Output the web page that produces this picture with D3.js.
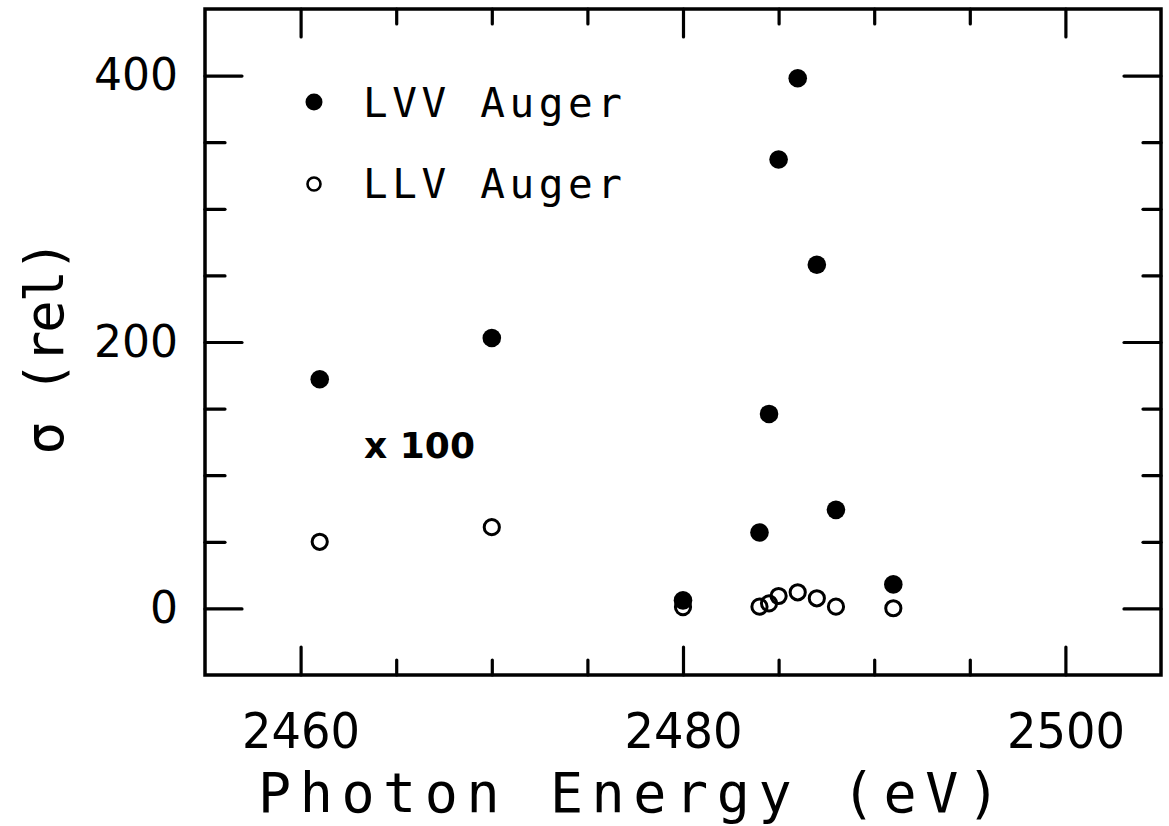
<!DOCTYPE html>
<html>
<head>
<meta charset="utf-8">
<script src="https://cdn.jsdelivr.net/npm/d3@7"></script>
<style>
  html, body { margin: 0; padding: 0; background: #fff; }
  svg { display: block; }
  text { font-family: "DejaVu Sans", sans-serif; fill: #000; }
  .mono { font-family: "DejaVu Sans Mono", monospace; }
</style>
</head>
<body>
<svg id="chart" width="1169" height="826"></svg>
<script>
// ---- data ----
const energies = [2461, 2470, 2480, 2484, 2484.5, 2485, 2486, 2487, 2488, 2491];
const lvvValues = [172, 203, 6, 57, 146, 337, 398, 258, 74, 18];
const llvValues = [50, 61, 1, 1.3, 3.8, 9.3, 12.1, 7.6, 1.3, 0.1];
const xMajorTicks = [2460, 2480, 2500];
const xMinorTicks = [2465, 2470, 2475, 2485, 2490, 2495];
const yMajorTicks = [0, 200, 400];
const yMinorTicks = [50, 100, 150, 250, 300, 350];
const legendLabels = ["LVV Auger", "LLV Auger"];
const xTitle = "Photon Energy (eV)";
const yTitle = "\u03c3 (rel)";
const scaleNote = "x 100";

// ---- layout ----
const L = 205, R = 1161, T = 9, B = 675;
const svg = d3.select("#chart");
const x = d3.scaleLinear().domain([2455, 2505]).range([L, R]);
const y = d3.scaleLinear().domain([-50, 450]).range([B, T]);

function styleAxis(g) {
  g.select(".domain").remove();
  g.selectAll(".tick line").attr("stroke", "#000").attr("stroke-width", 3.2).attr("stroke-linecap", "round");
}

// bottom
svg.append("g").attr("transform", `translate(0,${B})`)
  .call(d3.axisBottom(x).tickValues(xMajorTicks).tickSizeInner(-28).tickSizeOuter(0).tickPadding(37).tickFormat(d3.format("d")))
  .call(styleAxis)
  .call(g => g.selectAll(".tick text").attr("font-size", 50).attr("textLength", 118).attr("lengthAdjust", "spacingAndGlyphs").attr("font-family", "DejaVu Sans"));
svg.append("g").attr("transform", `translate(0,${B})`)
  .call(d3.axisBottom(x).tickValues(xMinorTicks).tickSizeInner(-15).tickSizeOuter(0).tickFormat(""))
  .call(styleAxis);
// top
svg.append("g").attr("transform", `translate(0,${T})`)
  .call(d3.axisTop(x).tickValues(xMajorTicks).tickSizeInner(-28).tickSizeOuter(0).tickFormat(""))
  .call(styleAxis);
svg.append("g").attr("transform", `translate(0,${T})`)
  .call(d3.axisTop(x).tickValues(xMinorTicks).tickSizeInner(-15).tickSizeOuter(0).tickFormat(""))
  .call(styleAxis);
// left
svg.append("g").attr("transform", `translate(${L},0)`)
  .call(d3.axisLeft(y).tickValues(yMajorTicks).tickSizeInner(-37).tickSizeOuter(0).tickPadding(27).tickFormat(d3.format("d")))
  .call(styleAxis)
  .call(g => g.selectAll(".tick text").attr("font-size", 44).attr("font-family", "DejaVu Sans"));
svg.append("g").attr("transform", `translate(${L},0)`)
  .call(d3.axisLeft(y).tickValues(yMinorTicks).tickSizeInner(-20).tickSizeOuter(0).tickFormat(""))
  .call(styleAxis);
// right
svg.append("g").attr("transform", `translate(${R},0)`)
  .call(d3.axisRight(y).tickValues(yMajorTicks).tickSizeInner(-37).tickSizeOuter(0).tickFormat(""))
  .call(styleAxis);
svg.append("g").attr("transform", `translate(${R},0)`)
  .call(d3.axisRight(y).tickValues(yMinorTicks).tickSizeInner(-18).tickSizeOuter(0).tickFormat(""))
  .call(styleAxis);

// frame
svg.append("rect").attr("x", L).attr("y", T).attr("width", R - L).attr("height", B - T)
  .attr("fill", "none").attr("stroke", "#000").attr("stroke-width", 3.5);

// data points
const lvv = energies.map((e, i) => ({ e, v: lvvValues[i] }));
const llv = energies.map((e, i) => ({ e, v: llvValues[i] }));
svg.append("g").selectAll("circle").data(lvv).join("circle")
  .attr("cx", d => x(d.e)).attr("cy", d => y(d.v)).attr("r", 9.3).attr("fill", "#000");
svg.append("g").selectAll("circle").data(llv).join("circle")
  .attr("cx", d => x(d.e)).attr("cy", d => y(d.v)).attr("r", 7.6)
  .attr("fill", "none").attr("stroke", "#000").attr("stroke-width", 3);

// legend
const lg = svg.append("g");
lg.append("circle").attr("cx", 314).attr("cy", 102).attr("r", 8.5).attr("fill", "#000");
lg.append("circle").attr("cx", 314).attr("cy", 184).attr("r", 6.5).attr("fill", "none").attr("stroke", "#000").attr("stroke-width", 2.6);
lg.selectAll("text").data(legendLabels).join("text").attr("class", "mono")
  .attr("x", 363).attr("y", (d, i) => 117 + i * 81)
  .attr("font-size", 41).attr("textLength", 259).attr("lengthAdjust", "spacing")
  .text(d => d);

// x 100 note
svg.append("text").attr("x", 364).attr("y", 458).attr("font-size", 36).attr("font-weight", "bold")
  .attr("textLength", 111).attr("lengthAdjust", "spacing").text(scaleNote);

// axis titles
svg.append("text").attr("class", "mono").attr("x", (258 + 1000) / 2).attr("y", 812).attr("text-anchor", "middle")
  .attr("font-size", 55).attr("textLength", 742).attr("lengthAdjust", "spacing")
  .text(xTitle);
svg.append("text").attr("class", "mono").attr("transform", "translate(63,347) rotate(-90)").attr("text-anchor", "middle")
  .attr("font-size", 54).attr("textLength", 215).attr("lengthAdjust", "spacing")
  .text(yTitle);
</script>
</body>
</html>
